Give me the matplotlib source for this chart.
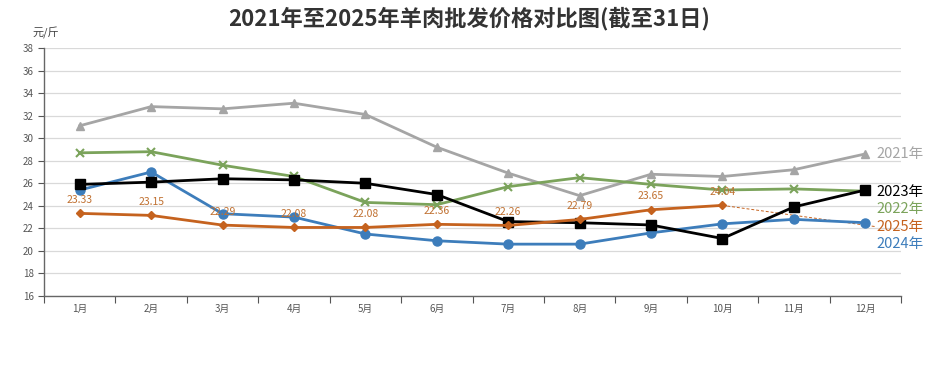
import matplotlib.pyplot as plt
import numpy as np

plt.rcParams['font.family'] = ['Noto Sans CJK SC', 'DejaVu Sans']

months = ['1月', '2月', '3月', '4月', '5月', '6月', '7月', '8月', '9月', '10月', '11月', '12月']
y2021 = [31.1, 32.8, 32.6, 33.1, 32.1, 29.2, 26.9, 24.9, 26.8, 26.6, 27.2, 28.6]
y2022 = [28.7, 28.8, 27.6, 26.6, 24.3, 24.1, 25.7, 26.5, 25.9, 25.4, 25.5, 25.3]
y2023 = [25.9, 26.1, 26.4, 26.3, 26.0, 25.0, 22.6, 22.5, 22.3, 21.1, 23.9, 25.4]
y2024 = [25.4, 27.0, 23.3, 23.0, 21.5, 20.9, 20.6, 20.6, 21.6, 22.4, 22.8, 22.5]
y2025 = [23.33, 23.15, 22.29, 22.08, 22.08, 22.36, 22.26, 22.79, 23.65, 24.04]

c21 = '#A5A5A5'
c22 = '#7BA35B'
c23 = '#000000'
c24 = '#3D7DBB'
c25 = '#C5621E'

fig = plt.figure(figsize=(9.38, 3.9), dpi=100)
ax = fig.add_axes([0.047, 0.241, 0.9135, 0.636])

x = np.arange(1, 13)
ax.plot(x, y2021, color=c21, lw=2, marker='^', ms=6, zorder=3)
ax.plot(x, y2022, color=c22, lw=2, marker='x', ms=6, mew=1.5, zorder=3)
ax.plot(x, y2023, color=c23, lw=2, marker='s', ms=6.5, zorder=4)
ax.plot(x, y2024, color=c24, lw=2, marker='o', ms=6.5, zorder=3)
x25 = np.arange(1, len(y2025) + 1)
ax.plot(x25, y2025, color=c25, lw=2, marker='D', ms=4.5, zorder=5)

for xi, v in zip(x25, y2025):
    ax.text(xi, v + 0.75, f'{v:.2f}', color='#C07030', fontsize=7.5, ha='center', va='bottom', zorder=6)

# series labels on the right
lab_x = 12.15
ax.text(lab_x, 28.6, '2021年', color=c21, fontsize=10.5, va='center', clip_on=False)
ax.text(lab_x, 25.25, '2023年', color=c23, fontsize=10.5, va='center', clip_on=False)
ax.text(lab_x, 23.7, '2022年', color=c22, fontsize=10.5, va='center', clip_on=False)
ax.text(lab_x, 22.1, '2025年', color=c25, fontsize=10.5, va='center', clip_on=False)
ax.text(lab_x, 20.6, '2024年', color=c24, fontsize=10.5, va='center', clip_on=False)
ax.plot([10, lab_x], [y2025[-1], 22.15], color=c25, lw=0.7, ls=(0, (3, 2)), zorder=2, clip_on=False)

ax.set_xlim(0.5, 12.5)
ax.set_ylim(16, 38)
ax.set_yticks(np.arange(16, 39, 2))
ax.tick_params(axis='y', labelsize=7, colors='#555555', length=4, width=0.8)
ax.set_xticks(np.arange(0.5, 13, 1))
ax.set_xticklabels([])
ax.tick_params(axis='x', length=5, width=0.8, colors='#555555')
ax.set_xticks(x, minor=True)
ax.set_xticklabels(months, minor=True)
ax.tick_params(axis='x', which='minor', length=0, labelsize=7, colors='#555555', pad=6)

ax.grid(axis='y', color='#D9D9D9', lw=0.9)
ax.set_axisbelow(True)
for s in ['top', 'right']:
    ax.spines[s].set_visible(False)
for s in ['left', 'bottom']:
    ax.spines[s].set_color('#666666')
    ax.spines[s].set_linewidth(1)

fig.text(0.035, 0.9, '元/斤', fontsize=8, color='#444444', va='bottom')
fig.text(0.5, 0.952, '2021年至2025年羊肉批发价格对比图(截至31日)', fontsize=16,
         fontweight='bold', color='#333333', ha='center', va='center')

fig.savefig('out.png', dpi=100, facecolor='white')
